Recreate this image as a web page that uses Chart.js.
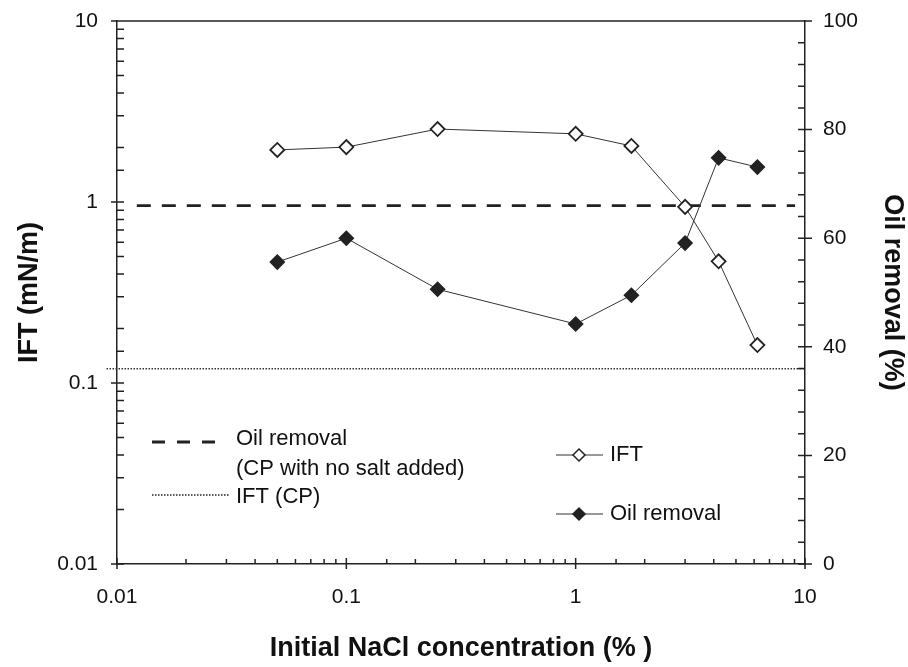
<!DOCTYPE html>
<html>
<head>
<meta charset="utf-8">
<script src="https://cdn.jsdelivr.net/npm/chart.js@4/dist/chart.umd.min.js"></script>
<style>
  body { margin: 0; background: #fff; }
  #wrap { width: 908px; height: 667px; }
</style>
</head>
<body>
<div id="wrap"><canvas id="chart" width="908" height="667"></canvas></div>
<script>
// данные
const concentration = [0.05, 0.1, 0.25, 1, 1.75, 3, 4.2, 6.2];
const ift = [1.94, 2.01, 2.53, 2.38, 2.04, 0.94, 0.47, 0.162];
const oilRemoval = [55.6, 60.0, 50.6, 44.2, 49.5, 59.1, 74.8, 73.1];
const oilNoSaltX = [0.0122, 9.05];
const oilNoSalt = [66, 66];
const iftCpX = [0.009, 10];
const iftCp = [0.12, 0.12];
const logTicks = [0.01, 0.1, 1, 10];
const rightTicks = [0, 20, 40, 60, 80, 100];

const FONT = "'Liberation Sans', Arial, sans-serif";
const INK = '#111';

const pts = (xs, ys) => xs.map((x, i) => ({ x: x, y: ys[i] }));
const isDecade = v => Math.abs(Math.log10(v) - Math.round(Math.log10(v))) < 1e-6;
const fmt = v => String(Number(v.toPrecision(1)));

// засечки внутрь, как в оригинале
const tickMarks = {
    id: 'tickMarks',
    afterDraw(chart) {
        const ctx = chart.ctx;
        const a = chart.chartArea;
        const { x, y, y2 } = chart.scales;
        ctx.save();
        ctx.strokeStyle = '#222';
        ctx.lineWidth = 1.5;
        ctx.beginPath();
        x.ticks.forEach(t => {
            const p = x.getPixelForValue(t.value);
            const big = isDecade(t.value);
            ctx.moveTo(p, a.bottom + (big ? 5 : 0));
            ctx.lineTo(p, a.bottom - (big ? 6 : 5));
        });
        y.ticks.forEach(t => {
            const p = y.getPixelForValue(t.value);
            const big = isDecade(t.value);
            ctx.moveTo(a.left - (big ? 6 : 0), p);
            ctx.lineTo(a.left + 7, p);
        });
        y2.ticks.forEach(t => {
            const p = y2.getPixelForValue(t.value);
            const big = t.value % 20 === 0;
            ctx.moveTo(a.right - 7, p);
            ctx.lineTo(a.right + (big ? 7 : 0), p);
        });
        // верхняя рамка
        ctx.moveTo(a.left, a.top);
        ctx.lineTo(a.right, a.top);
        ctx.stroke();
        ctx.restore();
    }
};

function diamond(ctx, cx, cy, r, filled) {
    ctx.beginPath();
    ctx.moveTo(cx - r, cy);
    ctx.lineTo(cx, cy - r);
    ctx.lineTo(cx + r, cy);
    ctx.lineTo(cx, cy + r);
    ctx.closePath();
    ctx.fillStyle = filled ? '#222' : '#fff';
    ctx.fill();
    ctx.stroke();
}

// две легенды внутри поля графика
const legends = {
    id: 'legends',
    afterDraw(chart) {
        const ctx = chart.ctx;
        ctx.save();
        ctx.strokeStyle = '#222';
        ctx.fillStyle = INK;
        ctx.font = '22px ' + FONT;
        ctx.textBaseline = 'middle';

        ctx.lineWidth = 2.8;
        ctx.setLineDash([13, 12]);
        ctx.beginPath();
        ctx.moveTo(152, 442); ctx.lineTo(218, 442);
        ctx.stroke();
        ctx.lineWidth = 1.5;
        ctx.setLineDash([1.5, 1.5]);
        ctx.beginPath();
        ctx.moveTo(152, 495); ctx.lineTo(230, 495);
        ctx.stroke();
        ctx.setLineDash([]);
        ctx.fillText('Oil removal', 236, 439);
        ctx.fillText('(CP with no salt added)', 236, 469);
        ctx.fillText('IFT (CP)', 236, 497);

        ctx.lineWidth = 1;
        ctx.strokeStyle = '#333';
        ctx.beginPath();
        ctx.moveTo(556, 455); ctx.lineTo(603, 455);
        ctx.moveTo(556, 514); ctx.lineTo(603, 514);
        ctx.stroke();
        ctx.lineWidth = 1.5;
        ctx.strokeStyle = '#222';
        diamond(ctx, 579, 455, 6, false);
        diamond(ctx, 579, 514, 6, true);
        ctx.fillStyle = INK;
        ctx.fillText('IFT', 610, 455);
        ctx.fillText('Oil removal', 610, 514);
        ctx.restore();
    }
};

const titleFont = { family: FONT, size: 27, weight: 'bold', lineHeight: 1 };
const tickFont = { family: FONT, size: 21 };

function fitV(w) {
    return s => { s.width = w; s.paddingTop = 0; s.paddingBottom = 0; };
}

new Chart(document.getElementById('chart'), {
    type: 'line',
    data: {
        datasets: [
            {
                label: 'IFT',
                data: pts(concentration, ift),
                yAxisID: 'y',
                borderColor: '#333',
                borderWidth: 1,
                pointStyle: 'rectRot',
                pointRadius: 7,
                pointBackgroundColor: '#fff',
                pointBorderColor: '#222',
                pointBorderWidth: 1.8
            },
            {
                label: 'Oil removal',
                data: pts(concentration, oilRemoval),
                yAxisID: 'y2',
                borderColor: '#333',
                borderWidth: 1,
                pointStyle: 'rectRot',
                pointRadius: 7,
                pointBackgroundColor: '#222',
                pointBorderColor: '#222',
                pointBorderWidth: 1.5
            },
            {
                label: 'Oil removal (CP with no salt added)',
                data: pts(oilNoSaltX, oilNoSalt),
                yAxisID: 'y2',
                borderColor: '#222',
                borderWidth: 2.8,
                borderDash: [14, 11],
                pointRadius: 0
            },
            {
                label: 'IFT (CP)',
                data: pts(iftCpX, iftCp),
                yAxisID: 'y',
                borderColor: '#333',
                borderWidth: 1.5,
                borderDash: [1.5, 1.5],
                pointRadius: 0,
                clip: false
            }
        ]
    },
    options: {
        responsive: false,
        animation: false,
        layout: { padding: { top: 21, left: 0, right: 0, bottom: 0 } },
        plugins: { legend: { display: false }, tooltip: { enabled: false } },
        scales: {
            x: {
                type: 'logarithmic',
                min: 0.01,
                max: 10,
                grid: { display: false, drawTicks: false },
                border: { display: true, color: '#222', width: 1.5 },
                ticks: {
                    autoSkip: false,
                    maxRotation: 0,
                    padding: 21,
                    color: INK,
                    font: tickFont,
                    callback: v => logTicks.some(t => Math.abs(t - v) < 1e-9) ? fmt(v) : ''
                },
                title: {
                    display: true,
                    text: 'Initial NaCl concentration (% )',
                    color: INK,
                    font: titleFont,
                    padding: { top: 0, bottom: 5 }
                },
                afterFit: s => { s.height = 103; s.paddingLeft = 0; s.paddingRight = 0; }
            },
            y: {
                type: 'logarithmic',
                position: 'left',
                min: 0.01,
                max: 10,
                grid: { display: false, drawTicks: false },
                border: { display: true, color: '#222', width: 1.5 },
                ticks: {
                    autoSkip: false,
                    padding: 19,
                    color: INK,
                    font: tickFont,
                    callback: v => logTicks.some(t => Math.abs(t - v) < 1e-9) ? fmt(v) : ''
                },
                title: {
                    display: true,
                    text: 'IFT (mN/m)',
                    color: INK,
                    font: titleFont,
                    padding: { top: 16, bottom: 0 }
                },
                afterFit: fitV(117)
            },
            y2: {
                type: 'linear',
                position: 'right',
                min: 0,
                max: 100,
                grid: { display: false, drawTicks: false },
                border: { display: true, color: '#222', width: 1.5 },
                ticks: {
                    stepSize: 4,
                    autoSkip: false,
                    maxTicksLimit: 40,
                    padding: 18,
                    color: INK,
                    font: tickFont,
                    callback: v => rightTicks.includes(v) ? String(v) : ''
                },
                title: {
                    display: true,
                    text: 'Oil removal (%)',
                    color: INK,
                    font: titleFont,
                    padding: { top: 2, bottom: 0 }
                },
                afterFit: fitV(103)
            }
        }
    },
    plugins: [tickMarks, legends]
});
</script>
</body>
</html>
